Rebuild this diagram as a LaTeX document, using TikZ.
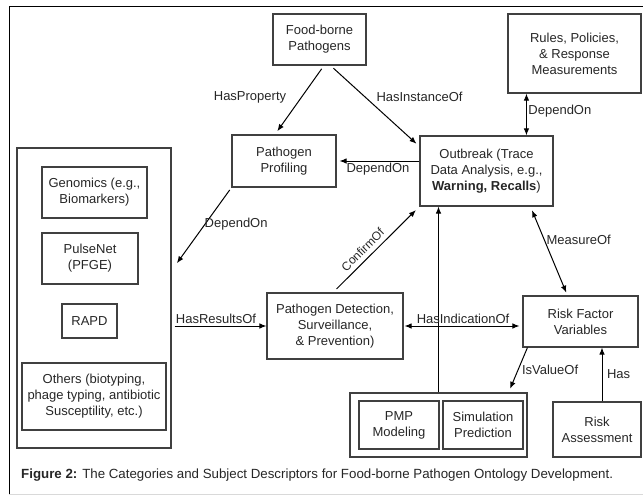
\documentclass[tikz,border=0pt]{standalone}
\usepackage{fontspec}
\setmainfont{Liberation Sans}
\usetikzlibrary{arrows.meta,calc}

\begin{document}
\begin{tikzpicture}[x=1pt,y=-1pt,font=\fontsize{13}{16}\selectfont,
  box/.style={draw=black!75,line width=1.1pt,align=center,inner sep=0pt,text=black!85},
  arr/.style={-{Latex[length=7pt,width=5.5pt]},line width=1pt},
  dbl/.style={{Latex[length=7pt,width=5.5pt]}-{Latex[length=7pt,width=5.5pt]},line width=1pt},
  lbl/.style={inner sep=1.5pt,text=black!85}]
  \useasboundingbox (0,0) rectangle (643,495);
  % Frame
  \draw[line width=1pt] (643,7) -- (9,7) -- (9,494);
  \draw[black!15] (9,494) -- (643,494);
  % Top row
  \node[box,minimum width=93pt,minimum height=51pt] (food) at (319.5,39.5) {Food-borne\\Pathogens};
  \node[box,minimum width=133pt,minimum height=79pt] (rules) at (574.5,53.5) {Rules, Policies,\\\& Response\\Measurements};
  \node[box,minimum width=104pt,minimum height=52pt] (prof) at (284,161) {Pathogen\\Profiling};
  \node[box,minimum width=133pt,minimum height=70pt] (outb) at (486.5,171)
    {Outbreak (Trace\\Data Analysis, e.g.,\\\textbf{Warning, Recalls})};
  % Typing methods
  \node[box,minimum width=154pt,minimum height=300pt] (meth) at (94,298) {};
  \node[box,minimum width=105pt,minimum height=51pt] (geno) at (94.5,192.5) {Genomics (e.g.,\\Biomarkers)};
  \node[box,minimum width=96pt,minimum height=51pt] (pulse) at (90,258.5) {PulseNet\\(PFGE)};
  \node[box,minimum width=55pt,minimum height=34pt] (rapd) at (89.5,321) {RAPD};
  \node[box,minimum width=144pt,minimum height=67pt] (others) at (94,396.5)
    {Others (biotyping,\\phage typing, antibiotic\\Susceptility, etc.)};
  % Middle and bottom
  \node[box,minimum width=136pt,minimum height=66pt] (detect) at (335,326)
    {Pathogen Detection,\\Surveillance,\\\& Prevention)};
  \node[box,minimum width=115pt,minimum height=51pt] (rfv) at (580.5,321.5) {Risk Factor\\Variables};
  \node[box,minimum width=177pt,minimum height=64pt] (pmpbox) at (438.5,425) {};
  \node[box,minimum width=80pt,minimum height=48pt] (pmp) at (399,425) {PMP\\Modeling};
  \node[box,minimum width=80pt,minimum height=48pt] (sim) at (483,425) {Simulation\\Prediction};
  \node[box,minimum width=88pt,minimum height=55pt] (riska) at (597,429.5) {Risk\\Assessment};
  % Relations
  \draw[arr,shorten <=4pt,shorten >=4pt] ($(food.south)+(4.5,0)$) -- ($(prof.north)+(-9,0)$);
  \node[lbl] (lhp) at (250,97) {HasProperty};
  \draw[arr,shorten <=4pt,shorten >=4pt] ($(food.south)+(11,0)$) -- ($(outb.north west)+(0,11)$);
  \node[lbl] (lhi) at (419.5,97) {HasInstanceOf};
  \draw[arr,shorten >=3pt] (outb.west |- prof.east) -- (prof.east)
    node[lbl,midway,below] (ldo1) {DependOn};
  \draw[dbl] ($(rules.south west)+(19,0)$) coordinate (r1) -- (r1 |- outb.north)
    node[lbl,midway,right,yshift=3pt] (ldo2) {DependOn};
  \draw[arr,shorten <=3pt,shorten >=4pt] (prof.south west) -- ($(meth.north east)+(3,119)$)
    node[lbl,pos=0.47,anchor=west,xshift=-2pt] (ldo3) {DependOn};
  \draw[arr,shorten <=3pt] (meth.east |- detect.west) -- (detect.west)
    node[lbl,midway,above,xshift=-3pt] (lhr) {HasResultsOf};
  \draw[arr,shorten <=5pt,shorten >=5pt] ($(detect.north)+(-2,0)$) -- (outb.south west)
    node[lbl,pos=0.42,sloped,above=3pt,font=\fontsize{12}{14}\selectfont] (lco) {ConfirmOf};
  \draw[arr] (pmpbox.north) -- (pmpbox.north |- outb.south);
  \draw[dbl,shorten <=1pt,shorten >=3pt] (detect.east) -- (detect.east -| rfv.west)
    node[lbl,midway,above] (lhio) {HasIndicationOf};
  \draw[dbl,shorten <=4pt,shorten >=3pt] ($(outb.south west)+(111,0)$) -- ($(rfv.north west)+(45,0)$)
    node[lbl,pos=0.38,right] (lmo) {MeasureOf};
  \draw[arr,shorten >=4pt] ($(rfv.south west)+(5,0)$) -- ($(pmpbox.north east)+(-19,0)$)
    node[lbl,midway,right,xshift=2pt] (liv) {IsValueOf};
  \draw[arr] ($(riska.north)+(5,0)$) coordinate (h1) -- (h1 |- rfv.south)
    node[lbl,midway,right,xshift=3pt] (lhas) {Has};
  % Caption
  \node[anchor=west,inner sep=0pt,text=black!85,font=\fontsize{13.3}{16}\selectfont] (cap) at (21,475)
    {\textbf{Figure 2:} The Categories and Subject Descriptors for Food-borne Pathogen Ontology Development.};
\end{tikzpicture}
\end{document}
